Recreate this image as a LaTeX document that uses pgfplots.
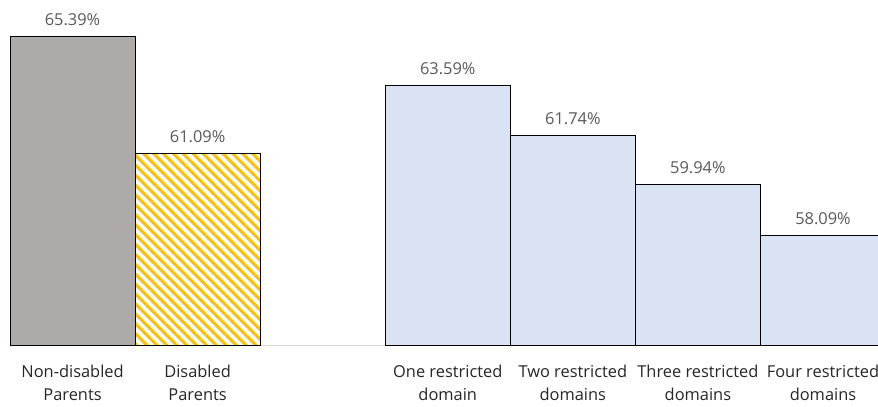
\documentclass[border=0pt]{standalone}
\usepackage{pgfplots}
\pgfplotsset{compat=1.18}
\usepackage{fontspec}
\setmainfont{Open Sans}
\usetikzlibrary{patterns.meta}
\definecolor{barGray}{HTML}{AEAAAA}
\definecolor{barBlue}{HTML}{DAE3F3}
\definecolor{hatchYellow}{HTML}{FFC000}
\definecolor{lblGray}{HTML}{595959}
\definecolor{tickGray}{HTML}{262626}
\definecolor{axisGray}{HTML}{D9D9D9}
\begin{document}
\begin{tikzpicture}
\begin{axis}[
  scale only axis,
  width=867.5pt, height=345pt,
  xmin=-0.5, xmax=6.44,
  ymin=54.06, ymax=66.72,
  hide y axis,
  axis x line*=bottom,
  x axis line style={draw=axisGray, line width=1pt},
  xtick={0,1,3,4,5,6},
  xticklabels={Non-disabled\\Parents, Disabled\\Parents, One restricted\\domain, Two restricted\\domains, Three restricted\\domains, Four restricted\\domains},
  xticklabel style={align=center, font=\fontsize{16.4}{23}\selectfont, text=tickGray, yshift=-16pt},
  major tick length=0pt,
  clip=true,
  point meta=explicit symbolic,
  nodes near coords={\pgfplotspointmeta},
  every node near coord/.append style={font=\fontsize{16.4}{18}\selectfont, text=lblGray, anchor=south, yshift=7pt},
]
\addplot[ybar, bar width=1, bar shift=0pt, fill=barGray, draw=black, line width=1pt]
  table[meta=l] {
x y l
0 65.39 65.39\%
};
\addplot[ybar, bar width=1, bar shift=0pt, fill=white, draw=none,
  postaction={pattern={Lines[angle=-45,distance=7pt,line width=3pt]}, pattern color=hatchYellow}]
  table[meta=l] {
x y l
1 61.09 61.09\%
};
\addplot[ybar, bar width=1, bar shift=0pt, fill=none, draw=black, line width=1pt, nodes near coords={}]
  table[meta=l] {
x y l
1 61.09 {}
};
\addplot[ybar, bar width=1, bar shift=0pt, fill=barBlue, draw=black, line width=1pt]
  table[meta=l] {
x y l
3 63.59 63.59\%
4 61.74 61.74\%
5 59.94 59.94\%
6 58.09 58.09\%
};
\end{axis}
\pgfresetboundingbox
\path ([xshift=-10pt]current axis.south west) ++(0,-61pt) rectangle (current axis.north east);
\end{tikzpicture}
\end{document}
